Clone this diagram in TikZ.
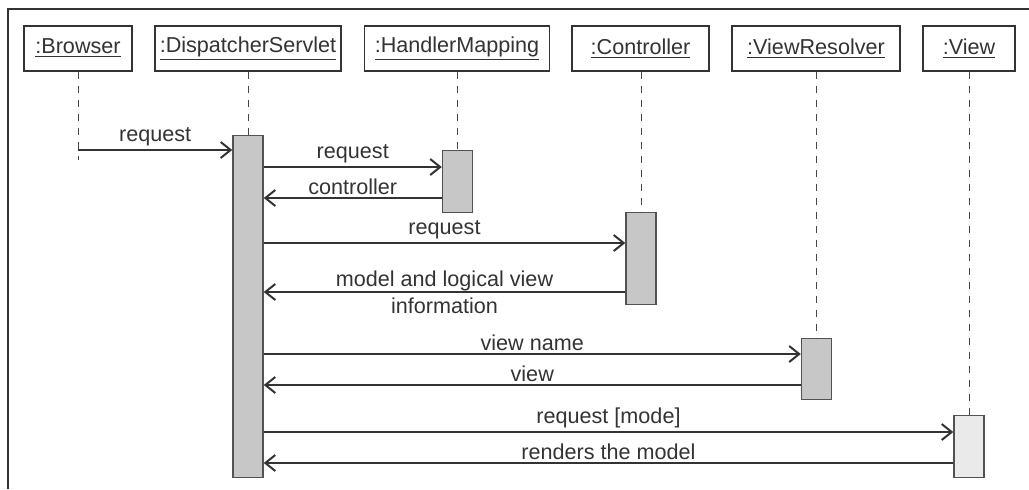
\documentclass[tikz,border=0pt]{standalone}
\usepackage{fontspec}
\setmainfont{Liberation Sans}
\usetikzlibrary{arrows.meta}
\definecolor{ink}{RGB}{51,51,51}
\definecolor{barfill}{RGB}{198,199,198}
\definecolor{barlight}{RGB}{233,234,233}

\begin{document}
\begin{tikzpicture}[
  x=0.5pt, y=-0.5pt,
  font=\fontsize{10.8}{13.5}\selectfont, text=ink,
  obj/.style={draw=ink, line width=0.7pt, minimum height=22.5pt, inner sep=0pt},
  bar/.style={draw=ink!85, line width=0.7pt, fill=barfill, minimum width=15pt, inner sep=0pt},
  life/.style={draw=ink!90, line width=0.5pt, dash pattern=on 3.5pt off 3.5pt},
  msg/.style={-{Straight Barb[length=5pt, width=8pt, line width=1pt]}, line width=0.75pt, draw=ink},
  lbl/.style={inner sep=1.5pt, align=center},
]
\useasboundingbox (0,0) rectangle (1029,489);
% ---- frame (cropped: top and left) ----
\draw[line width=1pt, draw=ink] (1029,9) -- (8,9) -- (8,489);

% ---- objects ----
\node[obj, minimum width=54pt] (browser) at (78,48.5) {\underline{:Browser}};
\node[obj, minimum width=93pt] (dispatcher) at (248,48.5) {\underline{:DispatcherServlet}};
\node[obj, minimum width=92.5pt] (mapping) at (457,48.5) {\underline{:HandlerMapping}};
\node[obj, minimum width=68.5pt] (controller) at (640.5,48.5) {\underline{:Controller}};
\node[obj, minimum width=84pt] (resolver) at (816,48.5) {\underline{:ViewResolver}};
\node[obj, minimum width=46pt] (view) at (969,48.5) {\underline{:View}};

% ---- activation bars ----
\node[bar, anchor=north, minimum height=171pt] (actDS) at (248,135) {};
\node[bar, anchor=north, minimum height=31pt] (actHM) at (457.5,150) {};
\node[bar, anchor=north, minimum height=46pt] (actC) at (641,212) {};
\node[bar, anchor=north, minimum height=30.5pt] (actVR) at (816.5,338) {};
\node[bar, anchor=north, minimum height=31pt, fill=barlight] (actV) at (969,415) {};
\coordinate (browserEnd) at (78,160);

% ---- lifelines ----
\draw[life] (browser.south) -- (browserEnd);
\draw[life] (dispatcher.south) -- (actDS.north);
\draw[life] (mapping.south -| actHM.north) -- (actHM.north);
\draw[life] (controller.south -| actC.north) -- (actC.north);
\draw[life] (resolver.south -| actVR.north) -- (actVR.north);
\draw[life] (view.south) -- (actV.north);

% ---- messages ----
\draw[msg] (browserEnd |- 0,150) -- node[lbl, above] {request} (actDS.west |- 0,150);
\draw[msg] (actDS.east |- 0,167) -- node[lbl, above] {request} (actHM.west |- 0,167);
\draw[msg] (actHM.west |- 0,198) -- node[lbl, above] {controller} (actDS.east |- 0,198);
\draw[msg] (actDS.east |- 0,243) -- node[lbl, above] {request} (actC.west |- 0,243);
\draw[msg] (actC.west |- 0,292) -- node[lbl] {model and logical view\\information} (actDS.east |- 0,292);
\draw[msg] (actDS.east |- 0,354) -- node[lbl, above] {view name} (actVR.west |- 0,354);
\draw[msg] (actVR.west |- 0,385) -- node[lbl, above] {view} (actDS.east |- 0,385);
\draw[msg] (actDS.east |- 0,432) -- node[lbl, above] {request [mode]} (actV.west |- 0,432);
\draw[msg] (actV.west |- 0,463) -- node[lbl, above] {renders the model} (actDS.east |- 0,463);
\end{tikzpicture}
\end{document}
